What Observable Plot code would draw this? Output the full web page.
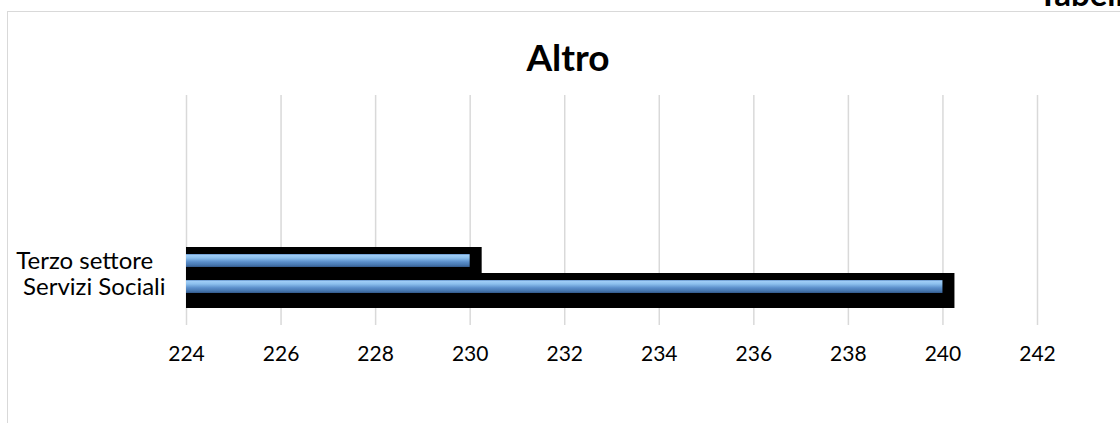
<!DOCTYPE html>
<html>
<head>
<meta charset="utf-8">
<script src="https://cdn.jsdelivr.net/npm/d3@7"></script>
<script src="https://cdn.jsdelivr.net/npm/@observablehq/plot@0.6"></script>
<style>
  html, body { margin: 0; padding: 0; background: #fff; }
  #wrap { position: relative; width: 1120px; height: 423px; overflow: hidden; font-family: Lato, "Open Sans", sans-serif; }
  #border { position: absolute; left: 7px; top: 11px; width: 1300px; height: 600px; border-left: 1.5px solid #d9d9d9; border-top: 1.5px solid #d9d9d9; box-sizing: border-box; }
  #title { position: absolute; left: 418px; width: 300px; top: 38px; text-align: center; font-weight: bold; font-size: 37px; line-height: 1; color: #000; }
  #corner { position: absolute; left: 1038px; top: -23px; font-weight: bold; font-size: 33px; line-height: 1; color: #000; white-space: nowrap; }
  #chart { position: absolute; left: 0; top: 0; }
</style>
</head>
<body>
<div id="wrap">
  <div id="border"></div>
  <div id="chart"></div>
  <div id="title">Altro</div>
  <div id="corner">Tabella</div>
</div>
<script>
// Data
const categories = ["Terzo settore", "Servizi Sociali"];
const values = [230, 240];
const xTicks = [224, 226, 228, 230, 232, 234, 236, 238, 240, 242];
const tickLabels = {"Terzo settore": "Terzo settore\u00a0\u00a0", "Servizi Sociali": "Servizi Sociali"};

const data = categories.map((c, i) => ({category: c, value: values[i]}));

const defs = () => {
  const g = d3.create("svg:defs");
  const lg = g.append("linearGradient")
    .attr("id", "barGrad").attr("x1", 0).attr("y1", 0).attr("x2", 0).attr("y2", 1);
  [[0, "#5d8cc4"], [0.1, "#9fcdf6"], [0.3, "#8cc0ee"], [0.6, "#5b8fcb"], [0.85, "#4676ae"], [1, "#33598a"]]
    .forEach(([o, c]) => lg.append("stop").attr("offset", o).attr("stop-color", c));
  return g.node();
};

const chart = Plot.plot({
  width: 1120,
  height: 423,
  marginLeft: 186,
  marginRight: 83,
  marginTop: 95,
  marginBottom: 98,
  style: {fontFamily: "Lato, 'Open Sans', sans-serif", fontSize: "21px", color: "#000", background: "transparent"},
  x: {domain: [224, 242]},
  y: {domain: categories, range: [247.5, 299.5], paddingInner: 0.5, paddingOuter: 0.25},
  marks: [
    defs,
    Plot.gridX(xTicks, {stroke: "#d9d9d9", strokeOpacity: 1, strokeWidth: 1.5}),
    Plot.barX(data, {x1: 224, x2: "value", y: "category", fill: "#000", insetTop: -7, insetBottom: -15, insetRight: -12}),
    Plot.barX(data, {x1: 224, x2: "value", y: "category", fill: "url(#barGrad)"}),
    Plot.axisX(xTicks, {tickSize: 0, tickPadding: 21, fontSize: 21, tickFormat: d => String(d), label: null}),
    Plot.axisY({tickSize: 0, tickPadding: 21, fontSize: 24, tickFormat: d => tickLabels[d], label: null})
  ]
});
document.getElementById("chart").appendChild(chart);
</script>
</body>
</html>
